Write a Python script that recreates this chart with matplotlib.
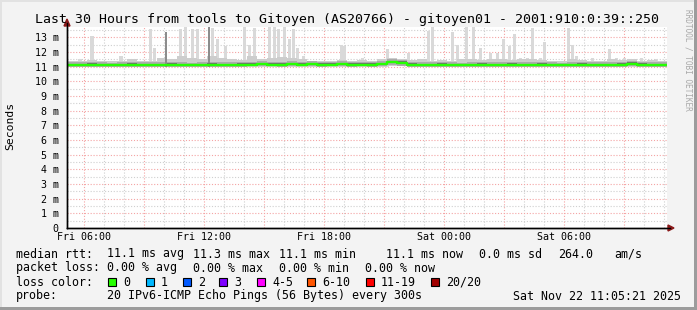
import numpy as np
import matplotlib
matplotlib.use('Agg')
import matplotlib.pyplot as plt
from matplotlib.lines import Line2D
from matplotlib.patches import Rectangle, Polygon

# ---------------- data ----------------
title = "Last 30 Hours from tools to Gitoyen (AS20766) - gitoyen01 - 2001:910:0:39::250"
x_start_h, x_end_h = 5.15, 35.15          # hours since Fri 00:00
tick_hours = [6, 12, 18, 24, 30]
tick_labels = ["Fri 06:00", "Fri 12:00", "Fri 18:00", "Sat 00:00", "Sat 06:00"]
y_ticks = list(range(0, 14))
y_tick_labels = ["0"] + [f"{v} m" for v in range(1, 14)]

# median RTT (ms), every 0.5 h from start
median_ms = [11.10, 11.09, 11.11, 11.10, 11.08, 11.10, 11.12, 11.10, 11.09, 11.10,
             11.11, 11.10, 11.08, 11.10, 11.12, 11.10, 11.09, 11.11, 11.14, 11.15,
             11.13, 11.14, 11.16, 11.14, 11.15, 11.13, 11.14, 11.15, 11.13, 11.14,
             11.13, 11.16, 11.30, 11.26, 11.12, 11.10, 11.09, 11.11, 11.10, 11.08,
             11.10, 11.11, 11.09, 11.10, 11.12, 11.10, 11.09, 11.11, 11.10, 11.08,
             11.10, 11.11, 11.10, 11.09, 11.10, 11.12, 11.20, 11.13, 11.10, 11.09,
             11.10]
# upper / lower edge of the dense smoke band (ms)
band_hi_ms = [11.40, 11.40, 11.45, 11.35, 11.35, 11.35, 11.55, 11.40, 11.40, 11.60,
              11.50, 11.70, 11.60, 11.55, 11.75, 11.60, 11.50, 11.45, 11.70, 11.50,
              11.60, 11.65, 11.60, 11.50, 11.40, 11.35, 11.40, 11.45, 11.40, 11.45,
              11.40, 11.50, 11.60, 11.50, 11.45, 11.50, 11.40, 11.45, 11.40, 11.50,
              11.55, 11.45, 11.50, 11.55, 11.45, 11.50, 11.55, 11.45, 11.40, 11.40,
              11.50, 11.45, 11.40, 11.35, 11.50, 11.45, 11.50, 11.40, 11.45, 11.40,
              11.40]
band_lo_ms = [10.95, 10.96, 10.94, 10.95, 10.96, 10.95, 10.94, 10.95, 10.96, 10.95,
              10.94, 10.95, 10.95, 10.94, 10.95, 10.96, 10.95, 10.94, 10.97, 10.98,
              10.97, 10.96, 10.98, 10.97, 10.97, 10.96, 10.98, 10.97, 10.96, 10.97,
              10.96, 10.98, 11.05, 11.02, 10.96, 10.95, 10.94, 10.95, 10.96, 10.95,
              10.94, 10.95, 10.96, 10.95, 10.94, 10.95, 10.96, 10.95, 10.94, 10.95,
              10.96, 10.95, 10.94, 10.95, 10.96, 10.95, 11.00, 10.96, 10.95, 10.94,
              10.95]
# sparse high pings (smoke spikes)
spike_hours = [5.80, 6.40, 7.85, 9.30, 9.50, 10.80, 11.05, 11.40, 11.65, 12.40,
               12.65, 13.05, 14.00, 14.25, 14.50, 15.25, 15.50, 15.70, 16.00, 16.25,
               16.45, 16.65, 16.95, 18.85, 19.00, 19.90, 21.15, 22.20, 23.20, 23.40,
               24.40, 24.65, 25.10, 25.45, 25.80, 26.30, 26.65, 26.95, 27.25, 27.50,
               27.80, 28.15, 28.40, 28.80, 29.00, 30.20, 30.40, 30.60, 31.40, 32.30,
               32.60, 33.05, 33.85, 34.65]
spike_top_ms = [11.55, 13.10, 11.70, 13.58, 12.30, 13.58, 13.70, 13.58, 13.58, 13.60,
                12.90, 12.40, 13.70, 12.50, 13.60, 13.70, 13.70, 13.58, 13.70, 12.90,
                13.58, 12.30, 11.70, 12.50, 12.40, 11.60, 12.20, 11.90, 13.45, 13.70,
                13.35, 12.50, 13.70, 13.70, 12.30, 11.90, 11.90, 12.90, 12.40, 13.25,
                11.60, 11.60, 13.60, 11.60, 12.70, 13.60, 12.50, 11.70, 11.60, 12.20,
                11.60, 11.60, 11.60, 11.50]
dark_spike_hours = [10.10, 12.25]
dark_spike_top_ms = [13.35, 13.70]

loss_labels = ["0", "1", "2", "3", "4-5", "6-10", "11-19", "20/20"]
loss_colors = ["#26ff00", "#00b8ff", "#0059ff", "#7e00ff", "#ff00ff", "#ff5500", "#ff0000", "#a10000"]
rtt_stats = ["11.1 ms avg", "11.3 ms max", "11.1 ms min", "11.1 ms now", "0.0 ms sd", "264.0", "am/s"]
loss_stats = ["0.00 % avg", "0.00 % max", "0.00 % min", "0.00 % now"]
probe_text = "20 IPv6-ICMP Echo Pings (56 Bytes) every 300s"
stamp_text = "Sat Nov 22 11:05:21 2025"

# ---------------- figure ----------------
W, H = 697, 310
MONO = "DejaVu Sans Mono"
fig = plt.figure(figsize=(W / 100, H / 100), dpi=100, facecolor="#f3f3f3")


def fx(x):
    return x / W


def fy(y):
    return 1 - y / H


ax = fig.add_axes([fx(67), fy(228), 600 / W, 201 / H])
ax.set_facecolor("white")
ax.set_xlim(x_start_h, x_end_h)
ax.set_ylim(0, 13.7)

# grid
dot = (0, (1, 1.6))
for h in np.arange(6, 36, 1):
    if h % 3 == 0:
        continue
    ax.axvline(h, color="#cfcfcf", lw=0.8, ls=dot, zorder=0.5)
for v in np.arange(0.5, 13.7, 1.0):
    ax.axhline(v, color="#cfcfcf", lw=0.8, ls=dot, zorder=0.5)
for h in np.arange(6, 36, 3):
    ax.axvline(h, color="#f4a4a4", lw=0.8, ls=dot, zorder=0.6)
for v in np.arange(1, 14, 1):
    ax.axhline(v, color="#f4a4a4", lw=0.8, ls=dot, zorder=0.6)

# smoke
hours = x_start_h + 0.5 * np.arange(len(median_ms))
med = np.array(median_ms)
ax.bar(spike_hours, np.array(spike_top_ms) - 11.0, bottom=11.0, width=0.15,
       color="#d9d9d9", linewidth=0, zorder=1)
ax.fill_between(hours, band_lo_ms, band_hi_ms, step="post", color="#cdcdcd",
                linewidth=0, zorder=1.2)
ax.fill_between(hours, np.array(band_lo_ms) + 0.04, med + 0.2, step="post",
                color="#ababab", linewidth=0, zorder=1.3)
ax.bar(dark_spike_hours, np.array(dark_spike_top_ms) - 11.0, bottom=11.0, width=0.12,
       color="#8c8c8c", linewidth=0, zorder=1.4)
ax.fill_between(hours, med - 0.05, med + 0.11, step="post", color="#707070",
                linewidth=0, zorder=1.5)
ax.step(hours, med, where="post", color=loss_colors[0], lw=1.7, zorder=2)

# axes / ticks
for s in ["top", "right"]:
    ax.spines[s].set_visible(False)
for s in ["left", "bottom"]:
    ax.spines[s].set_color("black")
    ax.spines[s].set_linewidth(1.0)
    ax.spines[s].set_zorder(3)
ax.set_xticks(tick_hours)
ax.set_xticklabels(tick_labels, fontsize=7.2, family=MONO)
ax.set_yticks(y_ticks)
ax.set_yticklabels(y_tick_labels, fontsize=7.2, family=MONO)
ax.tick_params(axis="y", length=0, pad=6)
ax.tick_params(axis="x", length=0, pad=3)

# axis extensions and arrows
fig.add_artist(Line2D([fx(67), fx(67)], [fy(228), fy(23)], color="black", lw=1.0))
fig.add_artist(Line2D([fx(67), fx(670)], [fy(228), fy(228)], color="black", lw=1.0))
fig.add_artist(Polygon([[fx(64), fy(26)], [fx(70), fy(26)], [fx(67), fy(19)]],
                       closed=True, color="#8b1a1a", transform=fig.transFigure))
fig.add_artist(Polygon([[fx(668), fy(225)], [fx(668), fy(231)], [fx(674), fy(228)]],
                       closed=True, color="#8b1a1a", transform=fig.transFigure))

# texts
fig.text(fx(347), fy(19), title, ha="center", va="center", fontsize=9.5, family=MONO)
fig.text(fx(10), fy(126), "Seconds", rotation=90, ha="center", va="center", fontsize=8.2, family=MONO)
fig.text(fx(688), fy(60), "RRDTOOL / TOBI OETIKER", rotation=270, ha="center", va="center",
         fontsize=5.6, family=MONO, color="#a8a8a8")

fs = 8.4
fig.text(fx(16), fy(254), "median rtt:", ha="left", va="center", fontsize=fs, family=MONO)
for xp, t in zip([107, 193, 279, 386, 479, 558, 614], rtt_stats):
    fig.text(fx(xp), fy(254), t, ha="left", va="center", fontsize=fs, family=MONO)
fig.text(fx(16), fy(268), "packet loss:", ha="left", va="center", fontsize=fs, family=MONO)
for xp, t in zip([107, 193, 279, 365], loss_stats):
    fig.text(fx(xp), fy(268), t, ha="left", va="center", fontsize=fs, family=MONO)
fig.text(fx(16), fy(282), "loss color:", ha="left", va="center", fontsize=fs, family=MONO)
box_x = [108, 146, 183, 219, 257, 307, 366, 431]
for bx, lab, col in zip(box_x, loss_labels, loss_colors):
    fig.add_artist(Rectangle((fx(bx), fy(286)), 8 / W, 8 / H, facecolor=col,
                             edgecolor="black", lw=0.8, transform=fig.transFigure))
    fig.text(fx(bx + 15), fy(282), lab, ha="left", va="center", fontsize=fs, family=MONO)
fig.text(fx(16), fy(296), "probe:", ha="left", va="center", fontsize=fs, family=MONO)
fig.text(fx(107), fy(296), probe_text, ha="left", va="center", fontsize=fs, family=MONO)
fig.text(fx(513), fy(296), stamp_text, ha="left", va="center", fontsize=fs, family=MONO)

# frame
fig.add_artist(Rectangle((fx(694), 0), 3 / W, 1, facecolor="#9c9c9c", lw=0, transform=fig.transFigure))
fig.add_artist(Rectangle((0, 0), 1, 3 / H, facecolor="#9c9c9c", lw=0, transform=fig.transFigure))
fig.add_artist(Rectangle((0, fy(2)), fx(694), 2 / H, facecolor="#e2e2e2", lw=0, transform=fig.transFigure))
fig.add_artist(Rectangle((0, fy(307)), 2 / W, fy(2) - fy(307), facecolor="#e2e2e2", lw=0, transform=fig.transFigure))

fig.savefig("out.png", dpi=100, facecolor=fig.get_facecolor())
